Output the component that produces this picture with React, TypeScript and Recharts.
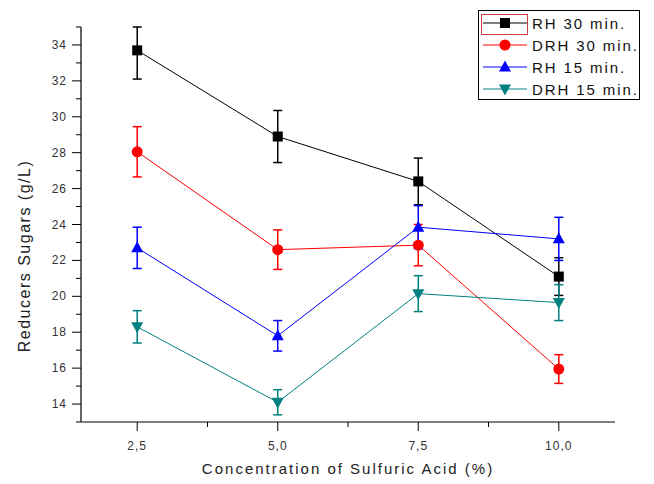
import React from "react";
import { ErrorBar, Line, LineChart, XAxis, YAxis } from "recharts";

const X_VALUES = [2.5, 5.0, 7.5, 10.0];
const RH30 = [33.7, 28.9, 26.4, 21.1];
// [below, above]; the first bar runs up to the top of the axis
const RH30_ERR = [[1.6, 1.3], [1.45, 1.45], [1.3, 1.3], [1.05, 1.05]];
const DRH30 = [28.05, 22.6, 22.85, 15.95];
const DRH30_ERR = [1.4, 1.1, 1.15, 0.8];
const RH15 = [22.7, 17.8, 23.85, 23.2];
const RH15_ERR = [1.15, 0.85, 1.2, 1.2];
const DRH15 = [18.3, 14.1, 20.15, 19.65];
const DRH15_ERR = [0.9, 0.7, 1.0, 1.0];

const X_TICKS = [2.5, 3.75, 5.0, 6.25, 7.5, 8.75, 10.0];
const X_MAJOR = [2.5, 5.0, 7.5, 10.0];
const Y_TICKS = [13, 14, 15, 16, 17, 18, 19, 20, 21, 22, 23, 24, 25, 26, 27, 28, 29, 30, 31, 32, 33, 34, 35];

const SERIES = [
  { key: "rh30", name: "RH 30 min.", color: "#000000", shape: "square" },
  { key: "drh30", name: "DRH 30 min.", color: "#ff0000", shape: "circle" },
  { key: "rh15", name: "RH 15 min.", color: "#0000ff", shape: "up" },
  { key: "drh15", name: "DRH 15 min.", color: "#008080", shape: "down" },
];

const data = X_VALUES.map((x, i) => ({
  x,
  rh30: RH30[i],
  rh30e: RH30_ERR[i],
  drh30: DRH30[i],
  drh30e: DRH30_ERR[i],
  rh15: RH15[i],
  rh15e: RH15_ERR[i],
  drh15: DRH15[i],
  drh15e: DRH15_ERR[i],
}));

const FONT = "'Liberation Sans', Arial, sans-serif";

function Marker({ cx, cy, shape, color }: { cx: number; cy: number; shape: string; color: string }) {
  if (shape === "square")
    return <rect x={cx - 5} y={cy - 5} width={10} height={10} fill={color} />;
  if (shape === "circle") return <circle cx={cx} cy={cy} r={5.5} fill={color} />;
  if (shape === "up")
    return <polygon points={`${cx},${cy - 6.5} ${cx + 6},${cy + 4.5} ${cx - 6},${cy + 4.5}`} fill={color} />;
  return <polygon points={`${cx},${cy + 6.5} ${cx + 6},${cy - 4.5} ${cx - 6},${cy - 4.5}`} fill={color} />;
}

const fmtX = (v: number) => v.toFixed(1).replace(".", ",");

function XTick(props: any) {
  const { x, y, payload } = props;
  const major = X_MAJOR.includes(payload.value);
  return (
    <g>
      <line x1={x} x2={x} y1={y} y2={y + (major ? 9 : 5)} stroke="#000" strokeWidth={1} />
      {major && (
        <text x={x} y={y + 28} textAnchor="middle" fontSize={12} letterSpacing={1} fill="#333" fontFamily={FONT}>
          {fmtX(payload.value)}
        </text>
      )}
    </g>
  );
}

function YTick(props: any) {
  const { x, y, payload } = props;
  const major = payload.value % 2 === 0;
  return (
    <g>
      <line x1={x} x2={x - (major ? 9 : 5)} y1={y} y2={y} stroke="#000" strokeWidth={1} />
      {major && (
        <text x={x - 14} y={y + 4} textAnchor="end" fontSize={12} letterSpacing={1} fill="#333" fontFamily={FONT}>
          {payload.value}
        </text>
      )}
    </g>
  );
}

function LegendBox() {
  return (
    <div
      style={{
        position: "absolute",
        left: 478,
        top: 10,
        width: 162,
        height: 90,
        border: "1px solid #000",
        boxSizing: "border-box",
        background: "#fff",
      }}
    >
      <svg width={160} height={88} style={{ position: "absolute", left: 0, top: 0 }}>
        <rect x={2.5} y={3.5} width={46} height={20} fill="none" stroke="#d04040" strokeWidth={1} />
        {SERIES.map((s, i) => {
          const cy = 12 + i * 22;
          return (
            <g key={s.key}>
              <line x1={4} x2={48} y1={cy} y2={cy} stroke={s.color} strokeWidth={1} />
              <Marker cx={26} cy={cy} shape={s.shape} color={s.color} />
              <text x={53} y={cy + 6} fontSize={15} letterSpacing={1.9} fill="#111" fontFamily={FONT}>
                {s.name}
              </text>
            </g>
          );
        })}
      </svg>
    </div>
  );
}

export default function App() {
  return (
    <div style={{ position: "fixed", left: 0, top: 0, width: 654, height: 484, background: "#fff" }}>
      <LineChart
        width={654}
        height={484}
        data={data}
        margin={{ top: 27, right: 39, left: 0, bottom: 0 }}
      >
        <XAxis
          dataKey="x"
          type="number"
          domain={[1.5, 11]}
          ticks={X_TICKS}
          interval={0}
          height={62}
          tickSize={0}
          tickMargin={0}
          tickLine={false}
          tick={<XTick />}
          axisLine={{ stroke: "#000", strokeWidth: 1.2 }}
          label={{
            content: (p: any) => {
              const vb = p.viewBox;
              return (
                <text
                  x={vb.x + vb.width / 2}
                  y={vb.y + 52}
                  textAnchor="middle"
                  fontSize={15}
                  letterSpacing={2}
                  fill="#222"
                  fontFamily={FONT}
                >
                  Concentration of Sulfuric Acid (%)
                </text>
              );
            },
          }}
        />
        <YAxis
          type="number"
          domain={[13, 35]}
          allowDataOverflow
          ticks={Y_TICKS}
          interval={0}
          width={81}
          tickSize={0}
          tickMargin={0}
          tickLine={false}
          tick={<YTick />}
          axisLine={{ stroke: "#000", strokeWidth: 1.2 }}
          label={{
            content: () => {
              const cx = 30;
              const cy = 256;
              return (
                <text
                  x={cx}
                  y={cy}
                  textAnchor="middle"
                  transform={`rotate(-90, ${cx}, ${cy})`}
                  fontSize={16}
                  letterSpacing={1.5}
                  fill="#222"
                  fontFamily={FONT}
                >
                  Reducers Sugars (g/L)
                </text>
              );
            },
          }}
        />
        {SERIES.map((s) => (
          <Line
            key={s.key}
            dataKey={s.key}
            type="linear"
            stroke={s.color}
            strokeWidth={1}
            isAnimationActive={false}
            dot={(p: any) => <Marker key={`${s.key}-${p.index}`} cx={p.cx} cy={p.cy} shape={s.shape} color={s.color} />}
            activeDot={false}
          >
            <ErrorBar
              dataKey={`${s.key}e`}
              direction="y"
              width={4.5}
              stroke={s.color}
              strokeWidth={1.5}
              isAnimationActive={false}
            />
          </Line>
        ))}
      </LineChart>
      <LegendBox />
    </div>
  );
}
